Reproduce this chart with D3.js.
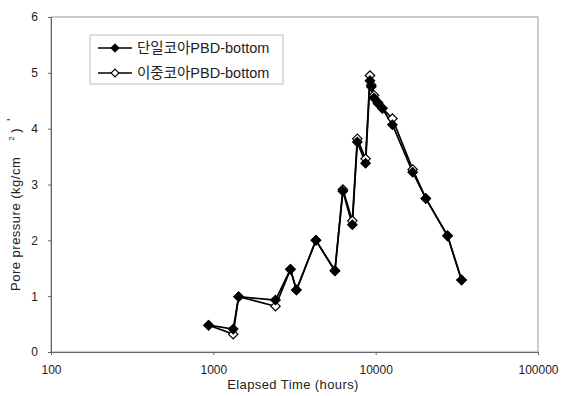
<!DOCTYPE html>
<html>
<head>
<meta charset="utf-8">
<script src="https://cdn.jsdelivr.net/npm/d3@7"></script>
<style>
  html, body { margin: 0; padding: 0; background: #fff; }
  svg { display: block; }
  text { font-family: "Liberation Sans", Arial, "Noto Sans CJK KR", sans-serif; fill: #222; }
  .kr { font-family: "Liberation Sans", "Noto Sans CJK KR", sans-serif; }
</style>
</head>
<body>
<svg id="chart" width="566" height="396"></svg>
<script>
// Elapsed time (hours) of each reading
const hours = [935, 1325, 1432, 2415, 2985, 3250, 4285, 5610, 6280, 7180, 7710, 8670,
               9226, 9400, 9770, 10330, 10990, 12680, 16910, 20370, 27720, 33810];
// Pore pressure (kg/cm2), single-core PBD
const singleCore = [0.48, 0.41, 0.99, 0.93, 1.48, 1.11, 2.0, 1.45, 2.88, 2.28, 3.76, 3.38,
                    4.86, 4.75, 4.55, 4.45, 4.36, 4.07, 3.22, 2.75, 2.08, 1.29];
// Pore pressure (kg/cm2), double-core PBD
const doubleCore = [0.48, 0.32, 0.99, 0.82, 1.48, 1.11, 2.0, 1.46, 2.91, 2.35, 3.82, 3.46,
                    4.95, 4.78, 4.6, 4.47, 4.37, 4.18, 3.27, 2.75, 2.08, 1.29];
const seriesNames = ["단일코아PBD-bottom", "이중코아PBD-bottom"];
const xTicks = [100, 1000, 10000, 100000];
const yTicks = [0, 1, 2, 3, 4, 5, 6];

const svg = d3.select("#chart");
const m = { left: 51, right: 538, top: 17, bottom: 352 };

const x = d3.scaleLog().domain([100, 100000]).range([m.left, m.right]);
const y = d3.scaleLinear().domain([0, 6]).range([m.bottom, m.top]);

// plot frame
svg.append("rect")
  .attr("x", m.left).attr("y", m.top)
  .attr("width", m.right - m.left).attr("height", m.bottom - m.top)
  .attr("fill", "none").attr("stroke", "#999").attr("stroke-width", 1);

// axes
const xAxis = d3.axisBottom(x).tickValues(xTicks).tickFormat(d3.format("d")).tickSize(3).tickPadding(10);
const gx = svg.append("g").attr("transform", `translate(0,${m.bottom})`).call(xAxis);
gx.select(".domain").attr("stroke", "#666");
gx.selectAll(".tick line").attr("stroke", "#666");
gx.selectAll("text").attr("font-size", 12).attr("fill", "#333");

const yAxis = d3.axisLeft(y).tickValues(yTicks).tickFormat(d3.format("d")).tickSize(3).tickPadding(10);
const gy = svg.append("g").attr("transform", `translate(${m.left},0)`).call(yAxis);
gy.select(".domain").attr("stroke", "#666");
gy.selectAll(".tick line").attr("stroke", "#666");
gy.selectAll("text").attr("font-size", 12).attr("fill", "#333");

// axis titles
svg.append("text")
  .attr("x", 293).attr("y", 389)
  .attr("text-anchor", "middle").attr("font-size", 13).attr("letter-spacing", 0.4)
  .text("Elapsed Time (hours)");

const yt = svg.append("text")
  .attr("transform", "translate(20,291) rotate(-90)")
  .attr("text-anchor", "start").attr("font-size", 13).attr("letter-spacing", 0.5);
yt.append("tspan").text("Pore pressure (kg/cm");
yt.append("tspan").attr("dx", 16).attr("dy", -6).attr("font-size", 8).text("2");
yt.append("tspan").attr("dx", 3).attr("dy", 6).text(")");
yt.append("tspan").attr("dx", 7).attr("dy", -4).text("'");

// series
const line = d3.line().x(d => x(d[0])).y(d => y(d[1]));
// square marker turned 45 degrees
const diamond = d3.symbol().type(d3.symbolSquare).size(44);

const series = [
  { name: seriesNames[1], values: doubleCore, fill: "#fff" },
  { name: seriesNames[0], values: singleCore, fill: "#000" }
];

series.forEach(s => {
  const pts = hours.map((h, i) => [h, s.values[i]]);
  svg.append("path").datum(pts)
    .attr("d", line).attr("fill", "none")
    .attr("stroke", "#000").attr("stroke-width", 1.7);
});
series.forEach(s => {
  const pts = hours.map((h, i) => [h, s.values[i]]);
  svg.append("g").selectAll("path").data(pts).join("path")
    .attr("transform", d => `translate(${x(d[0])},${y(d[1])}) rotate(45)`)
    .attr("d", diamond)
    .attr("fill", s.fill).attr("stroke", "#000").attr("stroke-width", 1.2);
});

// legend
const lg = svg.append("g").attr("transform", "translate(90,35)");
lg.append("rect").attr("width", 193).attr("height", 49)
  .attr("fill", "#fff").attr("stroke", "#bbb").attr("stroke-width", 1);
const legendItems = [
  { name: seriesNames[0], fill: "#000" },
  { name: seriesNames[1], fill: "#fff" }
];
legendItems.forEach((it, i) => {
  const cy = 13 + i * 25;
  lg.append("line").attr("x1", 8).attr("x2", 42).attr("y1", cy).attr("y2", cy)
    .attr("stroke", "#000").attr("stroke-width", 1.6);
  lg.append("path").attr("transform", `translate(25,${cy}) rotate(45)`)
    .attr("d", d3.symbol().type(d3.symbolSquare).size(30))
    .attr("fill", it.fill).attr("stroke", "#000").attr("stroke-width", 1.1);
  lg.append("text").attr("class", "kr").attr("x", 47).attr("y", cy + 5)
    .attr("font-size", 14.5).text(it.name);
});
</script>
</body>
</html>
